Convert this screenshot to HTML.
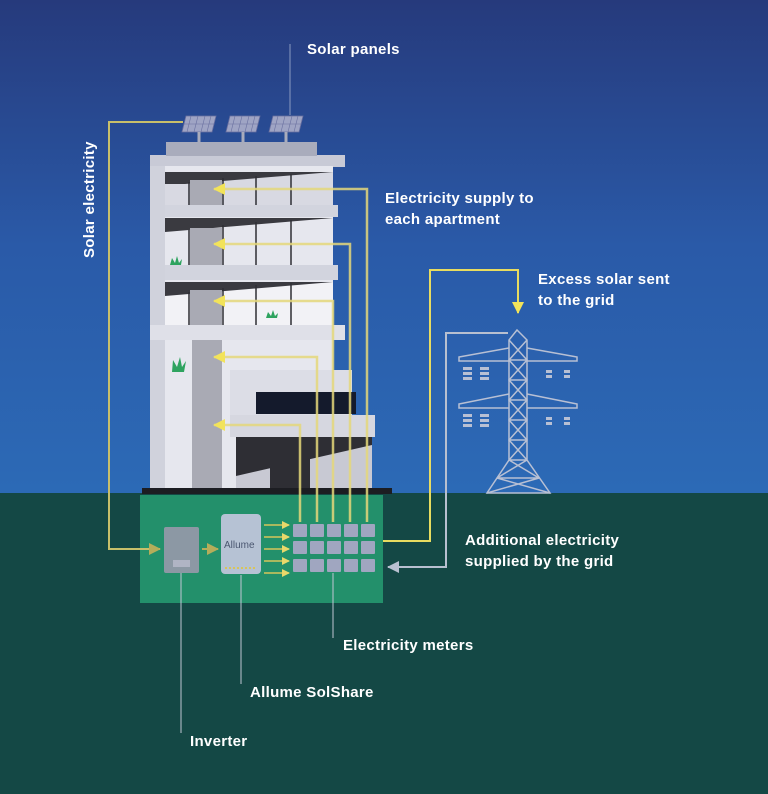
<!DOCTYPE html>
<html><head><meta charset="utf-8"><style>
html,body{margin:0;padding:0;width:768px;height:794px;overflow:hidden}
text{font-family:"Liberation Sans",sans-serif;font-weight:bold;fill:#fff;font-size:15px;letter-spacing:0.3px}
</style></head><body>
<svg width="768" height="794" viewBox="0 0 768 794" xmlns="http://www.w3.org/2000/svg">
<defs>
<linearGradient id="sky" x1="0" y1="0" x2="0" y2="1">
<stop offset="0" stop-color="#263a7c"/><stop offset="0.5" stop-color="#2a5aa8"/><stop offset="1" stop-color="#2c6ab6"/>
</linearGradient>
<marker id="ay" markerWidth="8" markerHeight="8" refX="7" refY="4" orient="auto" markerUnits="userSpaceOnUse"><path d="M0,0 L8,4 L0,8 Z" fill="#e8d86a"/></marker>
<marker id="ay2" markerWidth="12" markerHeight="12" refX="11" refY="6" orient="auto" markerUnits="userSpaceOnUse"><path d="M0,0 L12,6 L0,12 Z" fill="#f2e35a"/></marker>
<marker id="ag" markerWidth="12" markerHeight="12" refX="11" refY="6" orient="auto" markerUnits="userSpaceOnUse"><path d="M0,0 L12,6 L0,12 Z" fill="#b8c0d0"/></marker>
<marker id="ab" markerWidth="12" markerHeight="12" refX="11" refY="6" orient="auto" markerUnits="userSpaceOnUse"><path d="M0,0 L12,6 L0,12 Z" fill="#b5ad5a"/></marker>
</defs>
<rect width="768" height="493" fill="url(#sky)"/>
<rect y="493" width="768" height="301" fill="#144845"/>

<!-- building -->
<rect x="150" y="155" width="195" height="12" fill="#c8cad6"/>
<rect x="166" y="142" width="151" height="14" fill="#a9acbc"/>
<rect x="150" y="166" width="183" height="325" fill="#e6e7ee"/>
<rect x="150" y="166" width="15" height="325" fill="#d0d2dc"/>
<!-- floor 1 -->
<rect x="165" y="172" width="168" height="33" fill="#d8d9e2"/>
<polygon points="185,184 333,172 165,172 165,184" fill="#3a3a40"/>
<rect x="190" y="180" width="32" height="25" fill="#a9aab4"/>
<rect x="165" y="205" width="173" height="12" fill="#d2d4de"/>
<!-- floor 2 -->
<rect x="165" y="218" width="168" height="47" fill="#e6e7ee"/>
<polygon points="165,218 333,218 165,232" fill="#3a3a40"/>
<rect x="190" y="228" width="32" height="37" fill="#a9aab4"/>
<rect x="165" y="265" width="173" height="15" fill="#d2d4de"/>
<!-- floor 3 -->
<rect x="165" y="282" width="168" height="43" fill="#f2f2f6"/>
<polygon points="165,282 333,282 165,296" fill="#3a3a40"/>
<rect x="190" y="290" width="32" height="35" fill="#a9aab4"/>
<rect x="150" y="325" width="195" height="15" fill="#dfe0e8"/>
<!-- mullions -->
<g stroke="#2e2e34" stroke-width="1.5">
<line x1="189" y1="182" x2="189" y2="205"/><line x1="223" y1="178" x2="223" y2="205"/><line x1="256" y1="176" x2="256" y2="205"/><line x1="291" y1="174" x2="291" y2="205"/>
<line x1="189" y1="230" x2="189" y2="265"/><line x1="223" y1="225" x2="223" y2="265"/><line x1="256" y1="222" x2="256" y2="265"/><line x1="291" y1="220" x2="291" y2="265"/>
<line x1="189" y1="292" x2="189" y2="325"/><line x1="223" y1="288" x2="223" y2="325"/><line x1="256" y1="285" x2="256" y2="325"/><line x1="291" y1="283" x2="291" y2="325"/>
</g>
<rect x="192" y="340" width="30" height="150" fill="#a9aab4"/>
<!-- annex -->
<rect x="230" y="370" width="122" height="50" fill="#dcdde6"/>
<rect x="256" y="392" width="100" height="22" fill="#141a2c"/>
<rect x="230" y="415" width="145" height="22" fill="#d6d7e0"/>
<polygon points="236,437 372,437 372,445 236,476" fill="#2e2e34"/>
<rect x="236" y="445" width="136" height="45" fill="#c8c9d3"/>
<polygon points="236,445 372,445 236,476" fill="#2e2e34"/>
<rect x="270" y="440" width="40" height="50" fill="#2e2e34"/>
<rect x="142" y="488" width="250" height="6" fill="#1c1d22"/>
<!-- plants -->
<g fill="#2ea35f">
<path d="M170,265 l2,-7 l3,5 l2,-7 l2,7 l3,-4 l-1,6 z"/>
<path d="M266,318 l2,-6 l3,4 l2,-6 l2,6 l3,-3 l-1,5 z"/>
<path d="M172,372 l1,-12 l4,7 l3,-10 l2,10 l4,-6 l-2,11 z"/>
</g>

<!-- solar panels -->
<g fill="#9fa4c4" stroke="#6a70a0" stroke-width="0.8">
<polygon points="186,116 216,116 212,132 182,132"/>
<polygon points="230,116 260,116 256,132 226,132"/>
<polygon points="273,116 303,116 299,132 269,132"/>
</g>
<g stroke="#6a70a0" stroke-width="0.6">
<line x1="191" y1="116" x2="187" y2="132"/><line x1="198" y1="116" x2="194" y2="132"/><line x1="205" y1="116" x2="201" y2="132"/><line x1="211" y1="116" x2="207" y2="132"/><line x1="184" y1="124" x2="214" y2="124"/>
<line x1="235" y1="116" x2="231" y2="132"/><line x1="242" y1="116" x2="238" y2="132"/><line x1="249" y1="116" x2="245" y2="132"/><line x1="255" y1="116" x2="251" y2="132"/><line x1="228" y1="124" x2="258" y2="124"/>
<line x1="278" y1="116" x2="274" y2="132"/><line x1="285" y1="116" x2="281" y2="132"/><line x1="292" y1="116" x2="288" y2="132"/><line x1="298" y1="116" x2="294" y2="132"/><line x1="271" y1="124" x2="301" y2="124"/>
</g>
<g stroke="#a9acbc" stroke-width="3"><line x1="199" y1="132" x2="199" y2="142"/><line x1="243" y1="132" x2="243" y2="142"/><line x1="286" y1="132" x2="286" y2="142"/></g>
<line x1="290" y1="44" x2="290" y2="115" stroke="#8a9ac0" stroke-width="1"/>

<!-- green box -->
<rect x="140" y="495" width="243" height="108" fill="#23906b"/>
<rect x="164" y="527" width="35" height="46" rx="2" fill="#8c98a4"/>
<rect x="173" y="560" width="17" height="7" fill="#b0b4c4"/>
<rect x="221" y="514" width="40" height="60" rx="4" fill="#b6c2d4"/>
<text x="224" y="548" style="font-size:10px;font-weight:normal;fill:#4a5670;letter-spacing:0">Allume</text>
<line x1="225" y1="568" x2="257" y2="568" stroke="#d8c55a" stroke-width="2" stroke-dasharray="2,2"/>
<g fill="#a0a6c0">
<rect x="293" y="524" width="14" height="13" rx="1"/><rect x="310" y="524" width="14" height="13" rx="1"/><rect x="327" y="524" width="14" height="13" rx="1"/><rect x="344" y="524" width="14" height="13" rx="1"/><rect x="361" y="524" width="14" height="13" rx="1"/>
<rect x="293" y="541" width="14" height="13" rx="1"/><rect x="310" y="541" width="14" height="13" rx="1"/><rect x="327" y="541" width="14" height="13" rx="1"/><rect x="344" y="541" width="14" height="13" rx="1"/><rect x="361" y="541" width="14" height="13" rx="1"/>
<rect x="293" y="559" width="14" height="13" rx="1"/><rect x="310" y="559" width="14" height="13" rx="1"/><rect x="327" y="559" width="14" height="13" rx="1"/><rect x="344" y="559" width="14" height="13" rx="1"/><rect x="361" y="559" width="14" height="13" rx="1"/>
</g>
<g stroke="#d8c55a" stroke-width="1.5" marker-end="url(#ay)">
<line x1="264" y1="525" x2="289" y2="525"/><line x1="264" y1="537" x2="289" y2="537"/><line x1="264" y1="549" x2="289" y2="549"/><line x1="264" y1="561" x2="289" y2="561"/><line x1="264" y1="573" x2="289" y2="573"/>
</g>
<line x1="202" y1="549" x2="218" y2="549" stroke="#b5ad5a" stroke-width="2" marker-end="url(#ab)"/>

<!-- solar electricity line -->
<polyline points="183,122 109,122 109,549 160,549" fill="none" stroke="#c8bf6a" stroke-width="2" marker-end="url(#ab)"/>
<!-- apartment supply lines -->
<g fill="none" stroke="#e4d77a" stroke-width="2.5" stroke-opacity="0.85" marker-end="url(#ay2)">
<polyline points="367,522 367,189 214,189"/>
<polyline points="350,522 350,244 214,244"/>
<polyline points="333,522 333,301 214,301"/>
<polyline points="317,522 317,357 214,357"/>
<polyline points="300,522 300,425 214,425"/>
</g>
<!-- excess to grid -->
<polyline points="383,541 430,541 430,270 518,270 518,313" fill="none" stroke="#e8dc60" stroke-width="2" marker-end="url(#ay2)"/>
<!-- from grid -->
<polyline points="508,333 446,333 446,567 388,567" fill="none" stroke="#b8c0d0" stroke-width="2" marker-end="url(#ag)"/>

<!-- tower -->
<g fill="none" stroke="#b8c0d4" stroke-width="1.5">
<polygon points="517,330 509,340 509,460 487,493 550,493 527,460 527,340"/>
<path d="M509,340 L527,360 L509,380 L527,400 L509,420 L527,440 L509,460 M527,340 L509,360 L527,380 L509,400 L527,420 L509,440 L527,460"/>
<path d="M509,360 H527 M509,380 H527 M509,400 H527 M509,420 H527 M509,440 H527 M509,460 H527 M497,478 H539 M487,493 L539,478 M550,493 L497,478 M509,460 L539,478 M527,460 L497,478"/>
<path d="M509,348 L459,357 L459,361 L509,361 M527,348 L577,357 L577,361 L527,361"/>
<path d="M509,394 L459,404 L459,408 L509,408 M527,394 L577,404 L577,408 L527,408"/>
</g>
<g fill="#b8c0d4">
<rect x="463" y="367" width="9" height="3"/><rect x="463" y="372" width="9" height="3"/><rect x="463" y="377" width="9" height="3"/>
<rect x="480" y="367" width="9" height="3"/><rect x="480" y="372" width="9" height="3"/><rect x="480" y="377" width="9" height="3"/>
<rect x="546" y="370" width="6" height="3"/><rect x="546" y="375" width="6" height="3"/>
<rect x="564" y="370" width="6" height="3"/><rect x="564" y="375" width="6" height="3"/>
<rect x="463" y="414" width="9" height="3"/><rect x="463" y="419" width="9" height="3"/><rect x="463" y="424" width="9" height="3"/>
<rect x="480" y="414" width="9" height="3"/><rect x="480" y="419" width="9" height="3"/><rect x="480" y="424" width="9" height="3"/>
<rect x="546" y="417" width="6" height="3"/><rect x="546" y="422" width="6" height="3"/>
<rect x="564" y="417" width="6" height="3"/><rect x="564" y="422" width="6" height="3"/>
</g>

<!-- label lines -->
<g stroke="#c0c6d4" stroke-width="1">
<line x1="333" y1="573" x2="333" y2="638"/>
<line x1="241" y1="575" x2="241" y2="684"/>
<line x1="181" y1="573" x2="181" y2="733"/>
</g>

<!-- labels -->
<text x="307" y="54">Solar panels</text>
<text transform="translate(94,258) rotate(-90)">Solar electricity</text>
<text x="385" y="203">Electricity supply to</text>
<text x="385" y="224">each apartment</text>
<text x="538" y="284">Excess solar sent</text>
<text x="538" y="305">to the grid</text>
<text x="465" y="545">Additional electricity</text>
<text x="465" y="566">supplied by the grid</text>
<text x="343" y="650">Electricity meters</text>
<text x="250" y="697">Allume SolShare</text>
<text x="190" y="746">Inverter</text>
</svg>
</body></html>
